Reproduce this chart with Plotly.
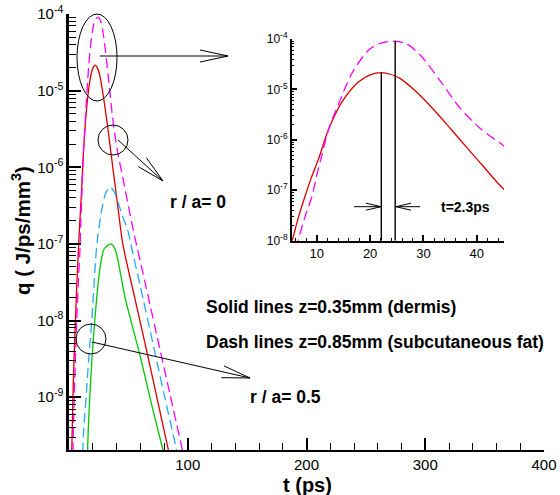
import plotly.graph_objects as go

# ---------------- data ----------------
# r/a = 0, z = 0.35 mm (solid, red)
t_r0_z035 = [2.0, 3.0, 4.0, 5.4, 6.6, 7.8, 9.0, 10.3, 12.2, 14.7, 17.8, 20.0, 22.1,
             23.8, 25.6, 28.7, 31.9, 35.0, 38.1, 41.2, 45.3, 55.0, 65.0, 75.0, 86.0]
q_r0_z035 = [1.2e-10, 6e-10, 2.5e-9, 1.0e-8, 3.0e-8, 7.6e-8, 1.8e-7, 4.1e-7, 1.6e-6, 5.6e-6,
             1.4e-5, 1.95e-5, 2.15e-5, 2.0e-5, 1.66e-5, 8.9e-6, 4.0e-6, 1.7e-6, 7.1e-7, 3.0e-7,
             1.0e-7, 2.1e-8, 4.3e-9, 8.4e-10, 1.4e-10]
# r/a = 0, z = 0.85 mm (dash, magenta)
t_r0_z085 = [3.0, 4.0, 5.2, 6.5, 7.8, 9.1, 10.0, 10.9, 12.2, 14.1, 16.6, 19.7, 22.0, 24.7,
             27.0, 29.4, 33.1, 36.9, 40.6, 45.3, 54.2, 65.0, 75.0, 85.0, 97.0]
q_r0_z085 = [1.2e-10, 6e-10, 2.6e-9, 1.0e-8, 3.0e-8, 7.6e-8, 2.0e-7, 4.7e-7, 1.6e-6, 5.2e-6,
             2.1e-5, 6.0e-5, 8.3e-5, 9.1e-5, 7.8e-5, 4.8e-5, 1.5e-5, 4.2e-6, 1.7e-6, 7.3e-7,
             1.5e-7, 2.7e-8, 5.4e-9, 1.1e-9, 1.6e-10]
# r/a = 0.5, z = 0.85 mm (dash, light blue)
t_r05_z085 = [11.0, 12.5, 14.4, 16.8, 19.2, 22.0, 23.5, 27.6, 31.0, 34.6, 38.0, 41.6, 45.0,
              49.5, 52.9, 59.8, 70.0, 80.0, 92.0]
q_r05_z085 = [1.2e-10, 4e-10, 1.0e-9, 3.5e-9, 1.0e-8, 5.0e-8, 1.0e-7, 2.8e-7, 4.6e-7, 5.5e-7,
              4.8e-7, 3.4e-7, 2.3e-7, 1.5e-7, 8.7e-8, 2.9e-8, 5.6e-9, 1.1e-9, 1.65e-10]
# r/a = 0.5, z = 0.35 mm (solid, green)
t_r05_z035 = [15.3, 16.3, 17.5, 19.5, 21.7, 23.4, 26.2, 29.8, 35.4, 38.8, 41.5, 47.2, 59.8,
              70.0, 80.0]
q_r05_z035 = [1.5e-10, 4e-10, 1.0e-9, 3.5e-9, 1.0e-8, 2.0e-8, 5.0e-8, 8.7e-8, 1.0e-7, 8.5e-8,
              5.8e-8, 2.0e-8, 3.5e-9, 7.5e-10, 1.8e-10]

main_xticks = [100, 200, 300, 400]
main_ydecades = [-9, -8, -7, -6, -5, -4]
inset_xticks = [10, 20, 30, 40]
inset_ydecades = [-8, -7, -6, -5, -4]

# ---------------- styling / layout ----------------
W, H = 560, 495
L, R, T, B = 69, 544, 14, 450
FONT = "Liberation Sans, Arial, sans-serif"
RED, MAG, CYA, GRN = "#dd0000", "#ff00ff", "#22aaff", "#00c800"


def pxx(x):
    return (x - L) / (R - L)


def pxy(y):
    return (B - y) / (B - T)


fig = go.Figure()

series = [
    (t_r0_z035, q_r0_z035, RED, "solid"),
    (t_r0_z085, q_r0_z085, MAG, "10px,5px"),
    (t_r05_z085, q_r05_z085, CYA, "10px,5px"),
    (t_r05_z035, q_r05_z035, GRN, "solid"),
]
for t, q, c, d in series:
    fig.add_trace(go.Scatter(x=t, y=q, mode="lines", line=dict(color=c, width=1.3, dash=d, shape="spline", smoothing=0.8),
                             xaxis="x", yaxis="y", showlegend=False, hoverinfo="skip"))

# inset: r/a = 0 curves
for t, q, c, d in series[:2]:
    fig.add_trace(go.Scatter(x=t, y=q, mode="lines", line=dict(color=c, width=1.3, dash=d, shape="spline", smoothing=0.8),
                             xaxis="x2", yaxis="y2", showlegend=False, hoverinfo="skip"))

# vertical lines at the two peaks in the inset
for t, q in [(t_r0_z035, q_r0_z035), (t_r0_z085, q_r0_z085)]:
    i = q.index(max(q))
    fig.add_trace(go.Scatter(x=[t[i], t[i]], y=[10 ** inset_ydecades[0], q[i]], mode="lines",
                             line=dict(color="black", width=1.4), xaxis="x2", yaxis="y2",
                             showlegend=False, hoverinfo="skip"))

shapes = []


def seg(x0, y0, x1, y1, w=1.0):
    shapes.append(dict(type="line", xref="paper", yref="paper", x0=pxx(x0), y0=pxy(y0),
                       x1=pxx(x1), y1=pxy(y1), line=dict(color="black", width=w)))


def arrow(x0, y0, x1, y1, hl=28, hw=6, w=1.0):
    seg(x0, y0, x1, y1, w)
    dx, dy = x1 - x0, y1 - y0
    n = (dx * dx + dy * dy) ** 0.5
    ux, uy = dx / n, dy / n
    bx, by = x1 - ux * hl, y1 - uy * hl
    seg(x1, y1, bx - uy * hw, by + ux * hw, w)
    seg(x1, y1, bx + uy * hw, by - ux * hw, w)


def ellipse(x0, y0, x1, y1):
    shapes.append(dict(type="circle", xref="paper", yref="paper", x0=pxx(x0), y0=pxy(y1),
                       x1=pxx(x1), y1=pxy(y0), line=dict(color="black", width=1.0)))


ellipse(77, 14, 117, 101)
arrow(100, 56, 228, 56)
ellipse(98, 125, 128, 155)
arrow(118, 140, 163, 181)
ellipse(76, 324, 106, 354)
arrow(92, 342, 250, 378)
# inset arrows
arrow(354, 206.7, 381, 206.7, hl=15, hw=3.5)
arrow(420, 206.7, 396, 206.7, hl=15, hw=3.5)

annotations = []


def text(s, x, y, size=17.5, xanchor="center", angle=0):
    annotations.append(dict(text="<b>" + s + "</b>", x=pxx(x), y=pxy(y), xref="paper", yref="paper",
                            xanchor=xanchor, yanchor="middle", showarrow=False, textangle=angle,
                            font=dict(family=FONT, size=size, color="black")))


text("r / a= 0", 198, 202)
text("r / a= 0.5", 285, 397)
text("Solid lines z=0.35mm (dermis)", 204, 307, xanchor="left")
text("Dash lines z=0.85mm (subcutaneous fat)", 204, 342, xanchor="left")
text("t=2.3ps", 465, 207, size=14)
# axis titles
text("t (ps)", 307, 484.5, size=20)
text("q ( J/ps/mm<sup>3</sup>)", 21, 231, size=20.5, angle=-90)

fig.update_layout(
    width=W, height=H, autosize=False,
    margin=dict(l=L, r=W - R, t=T, b=H - B, pad=0),
    paper_bgcolor="white", plot_bgcolor="rgba(0,0,0,0)",
    font=dict(family=FONT, color="black"),
    shapes=shapes, annotations=annotations,
    xaxis=dict(domain=[0, 1], range=[0, 400], anchor="y", automargin=False,
               showline=True, linecolor="black", linewidth=2, mirror=False,
               showgrid=False, zeroline=False,
               tickmode="array", tickvals=main_xticks, ticktext=[str(v) for v in main_xticks],
               ticks="inside", ticklen=12, tickwidth=2, tickcolor="black",
               minor=dict(ticks="inside", ticklen=7, tickwidth=1, tickcolor="black", tickmode="linear", tick0=0, dtick=20, showgrid=False),
               tickfont=dict(size=15, family=FONT)),
    yaxis=dict(domain=[0, 1], type="log", range=[-9.69, -4], anchor="x", automargin=False,
               showline=True, linecolor="black", linewidth=2.5, mirror=False,
               showgrid=False, zeroline=False,
               tickmode="array", tickvals=[10 ** d for d in main_ydecades],
               ticktext=["10<sup>%d</sup>" % d for d in main_ydecades],
               ticks="inside", ticklen=12, tickwidth=2, tickcolor="black",
               minor=dict(ticks="inside", ticklen=7, tickwidth=1, tickcolor="black", dtick="D1", showgrid=False),
               tickfont=dict(size=15, family=FONT)),
    xaxis2=dict(domain=[pxx(291.7), pxx(504)], range=[5.3, 45.1], anchor="y2", automargin=False,
                showline=True, linecolor="black", linewidth=1.5, mirror=False,
                showgrid=False, zeroline=False,
                tickmode="array", tickvals=inset_xticks, ticktext=[str(v) for v in inset_xticks],
                ticks="inside", ticklen=6, tickwidth=1.5, tickcolor="black",
                minor=dict(ticks="inside", ticklen=3, tickwidth=1, tickcolor="black", tickmode="linear", tick0=0, dtick=2, showgrid=False),
                tickfont=dict(size=13, family=FONT)),
    yaxis2=dict(domain=[pxy(240.7), pxy(39)], type="log", range=[-8, -4], anchor="x2", automargin=False,
                showline=True, linecolor="black", linewidth=1.5, mirror=False,
                showgrid=False, zeroline=False,
                tickmode="array", tickvals=[10 ** d for d in inset_ydecades],
                ticktext=["10<sup>%d</sup>" % d for d in inset_ydecades],
                ticks="inside", ticklen=6, tickwidth=1.5, tickcolor="black",
                minor=dict(ticks="inside", ticklen=3, tickwidth=1, tickcolor="black", dtick="D1", showgrid=False),
                tickfont=dict(size=12, family=FONT)),
)

fig.write_html("out.html")
